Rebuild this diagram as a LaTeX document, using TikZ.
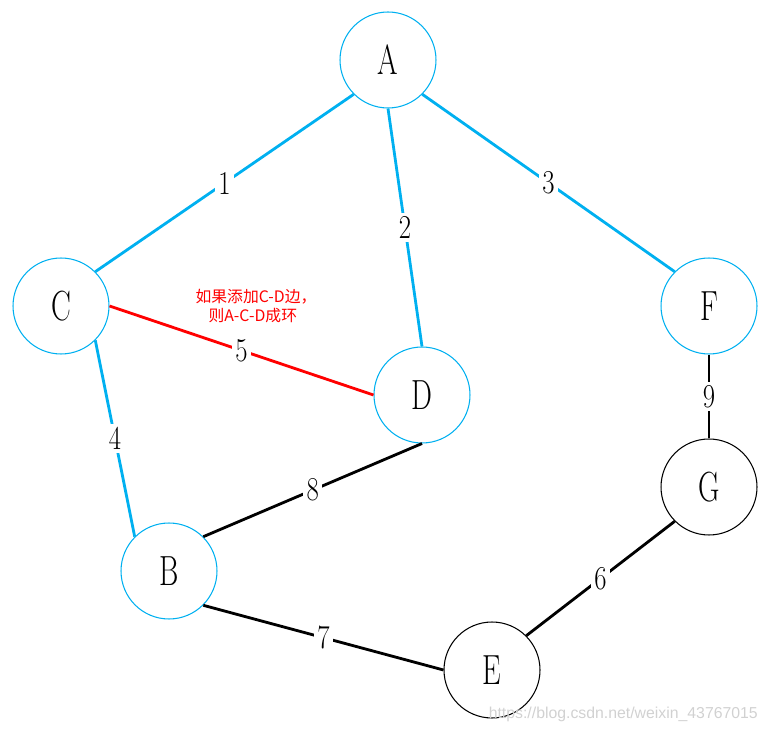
\documentclass[tikz,border=0pt]{standalone}
\usepackage{fontspec}
\usepackage{graphicx}
\newfontfamily\cjk{Noto Sans CJK SC}
\newfontfamily\wmfont{Liberation Sans}
\definecolor{edgeblue}{RGB}{0,176,240}
\newcommand{\nar}[1]{\scalebox{0.7}[1]{#1}}
\newcommand{\narnum}[1]{\scalebox{0.8}[1]{#1}}

\begin{document}
\begin{tikzpicture}[x=0.02cm,y=-0.02cm,
  vtx/.style={circle,draw=edgeblue,line width=0.6pt,minimum size=1.92cm,inner sep=0pt,font=\fontsize{24}{26}\selectfont},
  vtxk/.style={vtx,draw=black},
  bedge/.style={draw=edgeblue,line width=1.6pt},
  redge/.style={draw=red,line width=1.6pt},
  kedge/.style={draw=black,line width=1.6pt},
  lbl/.style={fill=white,inner sep=2pt,font=\fontsize{19}{21}\selectfont}]
  \useasboundingbox (0,0) rectangle (774,732);
  % vertices
  \node[vtx] (A) at (388,60) {\nar{A}};
  \node[vtx] (C) at (61,306) {\nar{C}};
  \node[vtx] (D) at (422,395) {\nar{D}};
  \node[vtx] (F) at (709,306) {\nar{F}};
  \node[vtxk] (G) at (709,487) {\nar{G}};
  \node[vtx] (B) at (169,571) {\nar{B}};
  \node[vtxk] (E) at (492,670) {\nar{E}};
  % tree edges
  \draw[bedge] (A.south west) -- node[lbl]{\narnum{1}} (C.north east);
  \draw[bedge] (A.south) -- node[lbl]{\narnum{2}} (D.north);
  \draw[bedge] (A.south east) -- node[lbl]{\narnum{3}} (F.north west);
  \draw[bedge] (C.south east) -- node[lbl]{\narnum{4}} (B.north west);
  % cycle edge
  \draw[redge] (C.east) -- node[lbl]{\narnum{5}} (D.west);
  % other edges
  \draw[kedge] (D.south) -- node[lbl]{\narnum{8}} (B.north east);
  \draw[kedge] (F.south) -- node[lbl]{\narnum{9}} (G.north);
  \draw[kedge] (G.south west) -- node[lbl]{\narnum{6}} (E.north east);
  \draw[kedge] (B.south east) -- node[lbl]{\narnum{7}} (E.west);
  % note
  \node[text=red,align=left,font=\cjk\fontsize{9}{10.5}\selectfont] (note) at (256,306) {如果添加C-D边，\\\hspace*{2.6mm}则A-C-D成环};
  \node[text=black!18,anchor=east,font=\wmfont\fontsize{9}{11}\selectfont] (wm) at (764,714) {https://blog.csdn.net/weixin\_43767015};
\end{tikzpicture}
\end{document}
